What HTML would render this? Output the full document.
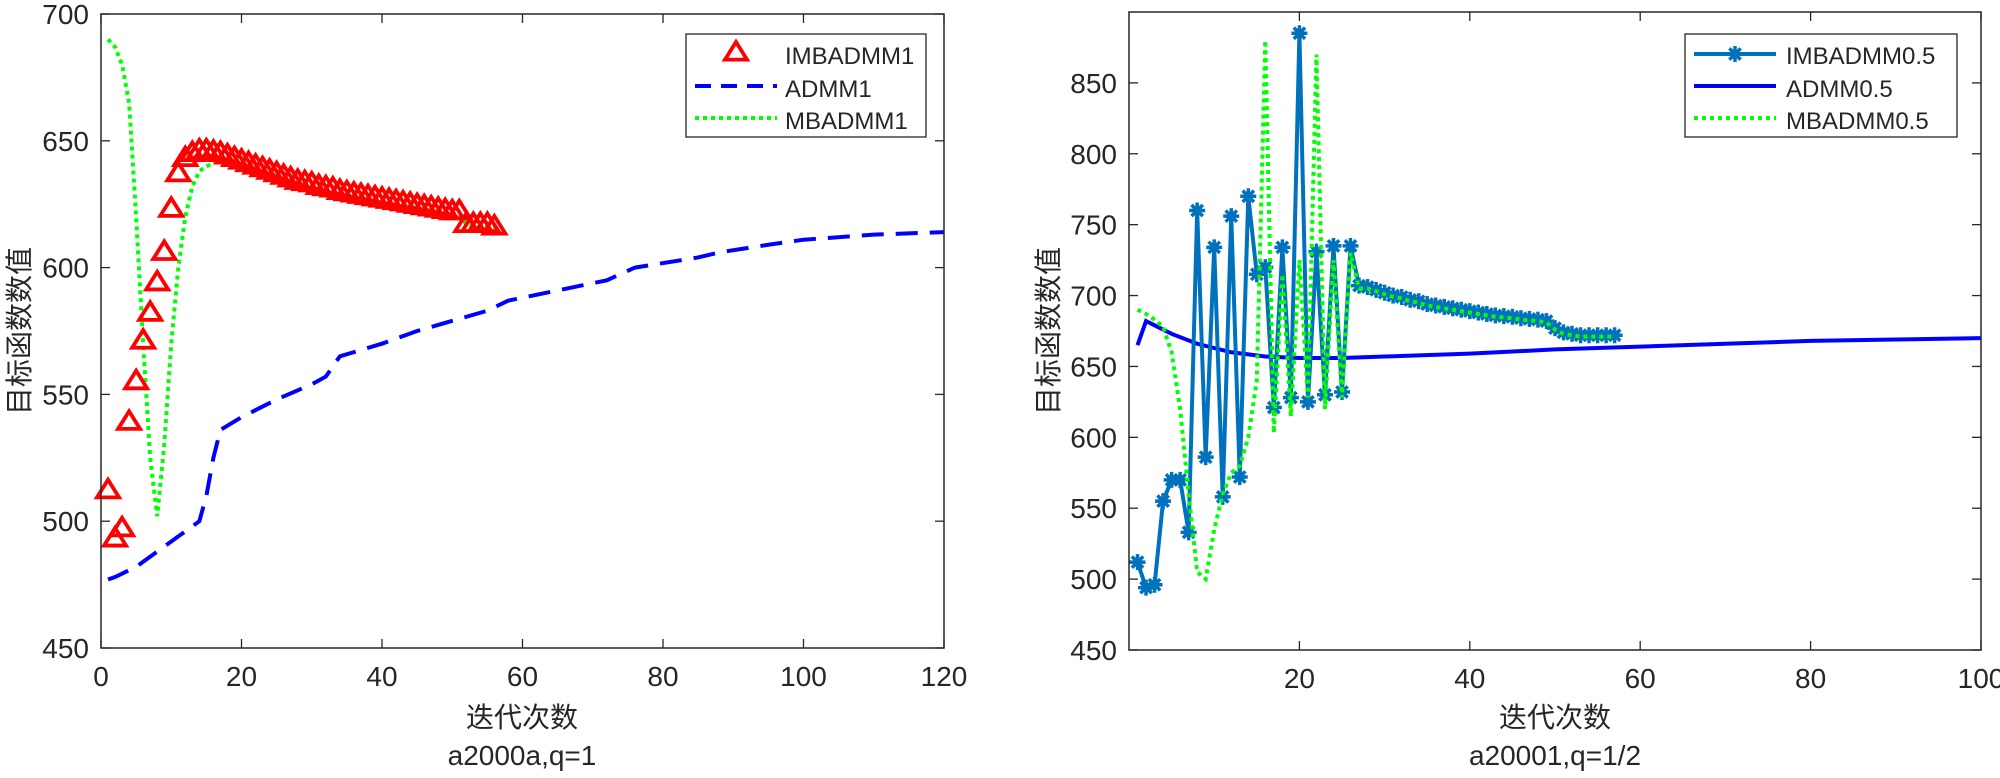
<!DOCTYPE html>
<html><head><meta charset="utf-8"><style>
body{margin:0;background:#fff;}
svg text{font-family:"Liberation Sans","Noto Sans CJK SC",sans-serif;fill:#262626;}
</style></head><body>
<svg id="c" width="2000" height="773" xmlns="http://www.w3.org/2000/svg"></svg>
<script>
// Left chart data
const L_imbX = Array.from({length:56},(_, i)=>i+1);
const L_imbY = [512,493,497,539,555,571,582,594,606,623,637,643,645,646,646,645.5,645,644,643,642,641,640,639,638,637,636,635,634,633.5,633,632,631.5,631,630,629.5,629,628.5,628,627.5,627,626.5,626,625.5,625,624.5,624,623.5,623,622.5,622,622,617,617,617,617,616];
const L_mbY = [690,687,680,665,620,570,525,502,530,570,600,620,632,638,640,641,644,643,642,641,640,639,638,637,636,635,634,633,632.5,632,631,630.5,630,629,628.5,628,627.5,627,626.5,626,625.5,625,624.5,624,623.5,623,622.5,622,621.5,621,621,617,616,616,616,616];
const L_admX = [1,2,5,8,11,14,15,16,17,20,25,30,32,34,40,45,50,55,58,65,72,76,85,88,95,100,110,120];
const L_admY = [477,478,482,488,494,500,510,525,536,541,548,554,557,565,570,575,579,583,587,591,595,600,604,606,609,611,613,614];
const L_xTicks = [0,20,40,60,80,100,120];
const L_yTicks = [450,500,550,600,650,700];
// Right chart data
const R_imbX = Array.from({length:57},(_, i)=>i+1);
const R_imbY = [512,494,496,555,570,570,533,760,586,734,558,756,572,770,715,720,621,734,628,885,625,731,630,735,632,735,707,706,704,702,700,699,697,696,694,693,692,691,690,689,688,687,686,685.5,685,684,683.5,683,682,677,674,673,672,672,672,672,672];
const R_mbY = [690,687,683,678,660,620,560,505,500,535,560,575,580,600,640,880,603,715,615,725,628,870,620,725,628,730,705,705,703,701,699,698,696,695,693,692,691,690,689,688,687,686,685,684.5,684,683,682.5,682,681,676,673,672,671,671,671,671,671];
const R_admX = [1,2,5,8,12,16,20,25,30,40,50,60,70,80,90,100];
const R_admY = [665,682,673,666,660,657,656,656,657,659,662,664,666,668,669,670];
const R_xTicks = [20,40,60,80,100];
const R_yTicks = [450,500,550,600,650,700,750,800,850];

const NS="http://www.w3.org/2000/svg";
const svg=document.getElementById('c');
function mk(tag,attrs,parent){const e=document.createElementNS(NS,tag);for(const k in attrs)e.setAttribute(k,attrs[k]);(parent||svg).appendChild(e);return e;}
function txt(s,x,y,size,anchor,parent,name){const t=mk('text',{x:x,y:y,'font-size':size,'text-anchor':anchor},parent);t.textContent=s;


return t;}

function axes(cfg){
  const g=mk('g',{});
  
  
  const sx=v=>cfg.x0+(v-cfg.xmin)/(cfg.xmax-cfg.xmin)*(cfg.x1-cfg.x0);
  const sy=v=>cfg.y1-(v-cfg.ymin)/(cfg.ymax-cfg.ymin)*(cfg.y1-cfg.y0);
  cfg.xTicks.forEach(v=>{const x=sx(v);
    mk('line',{x1:x,y1:cfg.y1,x2:x,y2:cfg.y1-9,stroke:'#262626','stroke-width':1.3},g);
    mk('line',{x1:x,y1:cfg.y0,x2:x,y2:cfg.y0+9,stroke:'#262626','stroke-width':1.3},g);
    txt(String(v),x,cfg.y1+38,28,'middle',g,'x-tick-label');});
  cfg.yTicks.forEach(v=>{const y=sy(v);
    mk('line',{x1:cfg.x0,y1:y,x2:cfg.x0+9,y2:y,stroke:'#262626','stroke-width':1.3},g);
    mk('line',{x1:cfg.x1,y1:y,x2:cfg.x1-9,y2:y,stroke:'#262626','stroke-width':1.3},g);
    txt(String(v),cfg.x0-12,y+10,28,'end',g,'y-tick-label');});
  return {g,sx,sy};
}
function line(g,xs,ys,sx,sy,style,name){
  const p=mk('polyline',Object.assign({points:xs.map((x,i)=>sx(x)+','+sy(ys[i])).join(' '),fill:'none'},style),g);
  
  
}
function tri(g,cx,cy,s){mk('polygon',{points:`${cx},${cy-s} ${cx-s},${cy+s*0.6} ${cx+s},${cy+s*0.6}`,fill:'none',stroke:'#ff0000','stroke-width':3.8,'stroke-linejoin':'miter'},g);}
function star(g,cx,cy,r,col){for(let a=0;a<4;a++){const t=a*Math.PI/4;mk('line',{x1:cx-r*Math.cos(t),y1:cy-r*Math.sin(t),x2:cx+r*Math.cos(t),y2:cy+r*Math.sin(t),stroke:col,'stroke-width':3.5},g);}mk('circle',{cx:cx,cy:cy,r:r*0.6,fill:col},g);}

// LEFT
const A=axes({name:'left-plot',x0:101,x1:944,y0:14,y1:648,xmin:0,xmax:120,ymin:450,ymax:700,xTicks:L_xTicks,yTicks:L_yTicks});
line(A.g,L_admX,L_admY,A.sx,A.sy,{stroke:'#0000ff','stroke-width':4,'stroke-dasharray':'22,12'},'admm1-line');
line(A.g,L_imbX,L_mbY,A.sx,A.sy,{stroke:'#00ff00','stroke-width':4,'stroke-dasharray':'4,4'},'mbadmm1-line');
L_imbX.forEach((x,i)=>tri(A.g,A.sx(x),A.sy(L_imbY[i]),11));
mk('rect',{x:101,y:14,width:843,height:634,fill:'none',stroke:'#262626','stroke-width':1.5});
const lg=mk('g',{});


mk('rect',{x:686,y:34,width:240,height:103,fill:'#fff',stroke:'#262626','stroke-width':1.3},lg);
tri(lg,736,53,11);
mk('line',{x1:695,y1:86,x2:777,y2:86,stroke:'#0000ff','stroke-width':4,'stroke-dasharray':'16,10'},lg);
mk('line',{x1:695,y1:118,x2:777,y2:118,stroke:'#00ff00','stroke-width':4,'stroke-dasharray':'4,4'},lg);
txt('IMBADMM1',785,64,24,'start',lg,'legend-imbadmm1');
txt('ADMM1',785,97,24,'start',lg,'legend-admm1');
txt('MBADMM1',785,129,24,'start',lg,'legend-mbadmm1');
txt('迭代次数',522,727,28,'middle',null,'left-x-axis-title');
txt('a2000a,q=1',522,765,28,'middle',null,'left-subtitle');
const yl=txt('目标函数数值',0,0,28,'middle',null,'left-y-axis-title');yl.setAttribute('transform','translate(29,331) rotate(-90)');

// RIGHT
const B=axes({name:'right-plot',x0:1129,x1:1981,y0:12,y1:650,xmin:0,xmax:100,ymin:450,ymax:900,xTicks:R_xTicks,yTicks:R_yTicks});
line(B.g,R_admX,R_admY,B.sx,B.sy,{stroke:'#0000ff','stroke-width':4},'admm05-line');
line(B.g,R_imbX,R_imbY,B.sx,B.sy,{stroke:'#0072bd','stroke-width':4},'imbadmm05-line');
R_imbX.forEach((x,i)=>star(B.g,B.sx(x),B.sy(R_imbY[i]),8,'#0072bd'));
line(B.g,R_imbX,R_mbY,B.sx,B.sy,{stroke:'#00ff00','stroke-width':4,'stroke-dasharray':'4,4'},'mbadmm05-line');
mk('rect',{x:1129,y:12,width:852,height:638,fill:'none',stroke:'#262626','stroke-width':1.5});
const rg=mk('g',{});


mk('rect',{x:1685,y:34,width:272,height:103,fill:'#fff',stroke:'#262626','stroke-width':1.3},rg);
mk('line',{x1:1694,y1:54,x2:1776,y2:54,stroke:'#0072bd','stroke-width':4},rg);star(rg,1735,54,8,'#0072bd');
mk('line',{x1:1694,y1:86,x2:1776,y2:86,stroke:'#0000ff','stroke-width':4},rg);
mk('line',{x1:1694,y1:118,x2:1776,y2:118,stroke:'#00ff00','stroke-width':4,'stroke-dasharray':'4,4'},rg);
txt('IMBADMM0.5',1786,64,24,'start',rg,'legend-imbadmm05');
txt('ADMM0.5',1786,97,24,'start',rg,'legend-admm05');
txt('MBADMM0.5',1786,129,24,'start',rg,'legend-mbadmm05');
txt('迭代次数',1555,727,28,'middle',null,'right-x-axis-title');
txt('a20001,q=1/2',1555,765,28,'middle',null,'right-subtitle');
const yr=txt('目标函数数值',0,0,28,'middle',null,'right-y-axis-title');yr.setAttribute('transform','translate(1058,331) rotate(-90)');
</script>
</body></html>
